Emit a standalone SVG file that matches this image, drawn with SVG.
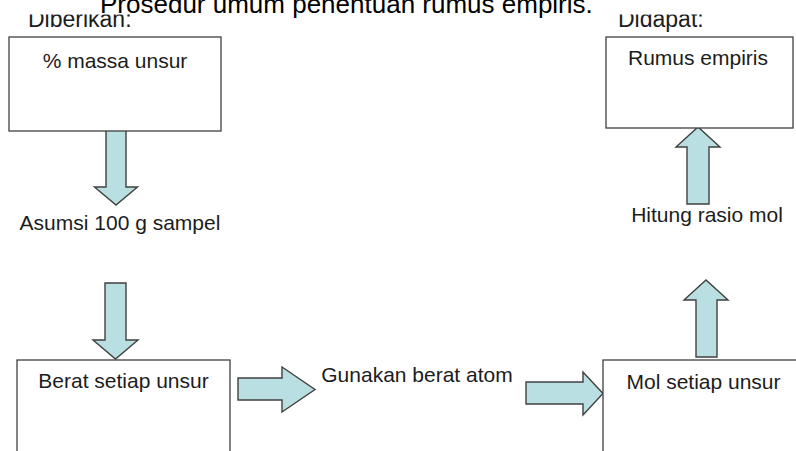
<svg xmlns="http://www.w3.org/2000/svg" width="796" height="451" viewBox="0 0 796 451">
  <style>
    .box { fill: #ffffff; stroke: #404040; stroke-width: 1.3; }
    .arr { fill: #b9dfe2; stroke: #404040; stroke-width: 1.4; stroke-linejoin: miter; }
    .t { font-family: "Liberation Sans", Arial, sans-serif; fill: #1c1c1c; }
    .lbl { font-size: 21px; }
    .hdr { font-size: 23px; }
    .title { font-size: 26px; fill: #000000; }
  </style>
  <defs>
    <clipPath id="hdrClip">
      <rect x="0" y="14.5" width="796" height="40"/>
    </clipPath>
  </defs>
  <rect x="0" y="0" width="796" height="451" fill="#ffffff"/>

  <g id="title">
    <text class="t title" x="100" y="13">Prosedur umum penentuan rumus empiris.</text>
  </g>
  <g id="headers" clip-path="url(#hdrClip)">
    <text class="t hdr" x="28" y="27">Diberikan:</text>
    <text class="t hdr" x="618" y="27">Didapat:</text>
  </g>

  <g id="connectors">
    <polygon class="arr" points="106,130 126,130 126,187 137.5,187 116,205 94.5,187 106,187"/>
    <polygon class="arr" points="105,283 126,283 126,340 138,340 115.5,359 93,340 105,340"/>
    <polygon class="arr" points="238,378 282,378 282,367 315,389.5 282,412 282,400 238,400"/>
    <polygon class="arr" points="526,382 583,382 583,372 603,393.5 583,415 583,404 526,404"/>
    <polygon class="arr" points="687,204 709,204 709,147 720,147 698,127 676,147 687,147"/>
    <polygon class="arr" points="696,357 717,357 717,300 728,300 706,280 684,300 696,300"/>
  </g>

  <g id="node-massa">
    <rect class="box" x="9" y="37" width="212" height="94"/>
    <text class="t lbl" x="115" y="68" text-anchor="middle">% massa unsur</text>
  </g>
  <g id="node-asumsi">
    <text class="t lbl" x="120" y="230" text-anchor="middle">Asumsi 100 g sampel</text>
  </g>
  <g id="node-berat">
    <rect class="box" x="17" y="360" width="213" height="100"/>
    <text class="t lbl" x="123.5" y="388" text-anchor="middle">Berat setiap unsur</text>
  </g>
  <g id="node-gunakan">
    <text class="t lbl" x="417" y="382" text-anchor="middle">Gunakan berat atom</text>
  </g>
  <g id="node-mol">
    <rect class="box" x="603" y="360" width="200" height="100"/>
    <text class="t lbl" x="703.5" y="389" text-anchor="middle">Mol setiap unsur</text>
  </g>
  <g id="node-hitung">
    <text class="t lbl" x="707" y="222" text-anchor="middle">Hitung rasio mol</text>
  </g>
  <g id="node-rumus">
    <rect class="box" x="606" y="37" width="187" height="91"/>
    <text class="t lbl" x="698" y="65" text-anchor="middle">Rumus empiris</text>
  </g>
</svg>
